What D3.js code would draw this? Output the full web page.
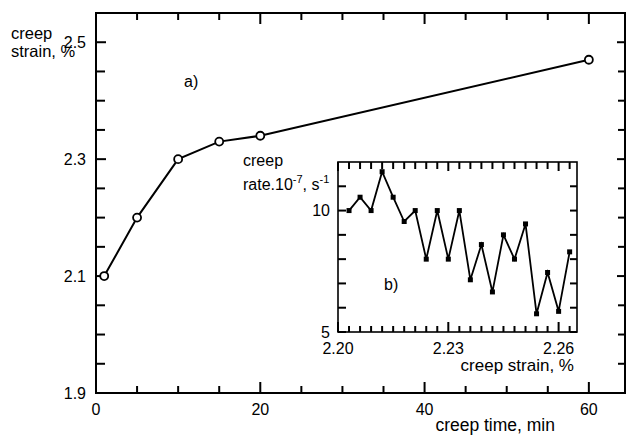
<!DOCTYPE html>
<html><head><meta charset="utf-8">
<script src="https://cdn.jsdelivr.net/npm/d3@7"></script>
<style>
html,body{margin:0;padding:0;background:#fff;}
text{font-family:"Liberation Sans",Arial,Helvetica,sans-serif;fill:#000;}
</style></head>
<body><svg id="c" width="630" height="437"></svg>
<script>
// ---- data ----
const timeMin = [1, 5, 10, 15, 20, 60];
const strainPct = [2.10, 2.20, 2.30, 2.33, 2.34, 2.47];
const insetStrain = [2.203, 2.206, 2.209, 2.212, 2.215, 2.218, 2.221, 2.224, 2.227, 2.230, 2.233,
                     2.236, 2.239, 2.242, 2.245, 2.248, 2.251, 2.254, 2.257, 2.260, 2.263];
const insetRate = [10.0, 10.55, 10.0, 11.6, 10.55, 9.55, 10.0, 8.0, 10.0, 8.0, 10.0,
                   7.15, 8.6, 6.65, 9.0, 8.0, 9.45, 5.75, 7.45, 5.85, 8.3];
const mainXTicks = [0, 20, 40, 60];
const mainXMinor = [5, 10, 15, 25, 30, 35, 45, 50, 55];
const mainYTicks = [1.9, 2.1, 2.3, 2.5];
const mainYMinor = [1.95, 2.0, 2.05, 2.15, 2.2, 2.25, 2.35, 2.4, 2.45];
const insetXTicks = [2.20, 2.23, 2.26];
const insetXMinor = [2.203,2.206,2.209,2.212,2.215,2.218,2.221,2.224,2.227,2.233,2.236,2.239,2.242,2.245,2.248,2.251,2.254,2.257,2.263];
const insetYTicks = [5, 10];
const insetYMinor = [6, 7, 8, 9, 11];

const svg = d3.select("#c");
svg.append("rect").attr("width",630).attr("height",437).attr("fill","#fff");
const TICK = "#000";

function vTicks(scale, vals, y0, y1, sw) {
  svg.append("g").selectAll("line").data(vals).enter().append("line")
    .attr("x1", d => scale(d)).attr("x2", d => scale(d))
    .attr("y1", y0).attr("y2", y1)
    .attr("stroke", TICK).attr("stroke-width", sw);
}
function hTicks(scale, vals, x0, x1, sw) {
  svg.append("g").selectAll("line").data(vals).enter().append("line")
    .attr("y1", d => scale(d)).attr("y2", d => scale(d))
    .attr("x1", x0).attr("x2", x1)
    .attr("stroke", TICK).attr("stroke-width", sw);
}
function xLabels(scale, vals, yy, fmt, fs) {
  svg.append("g").selectAll("text").data(vals).enter().append("text")
    .attr("x", d => scale(d)).attr("y", yy).attr("text-anchor","middle")
    .style("font-size", fs + "px").text(fmt);
}
function yLabels(scale, vals, xx, fmt, fs) {
  svg.append("g").selectAll("text").data(vals).enter().append("text")
    .attr("x", xx).attr("y", d => scale(d)).attr("dy","0.36em").attr("text-anchor","end")
    .style("font-size", fs + "px").text(fmt);
}

const M = {l:96, r:625, t:13, b:393};
const x = d3.scaleLinear().domain([0, 64.4]).range([M.l, M.r]);
const y = d3.scaleLinear().domain([1.9, 2.55]).range([M.b, M.t]);

vTicks(x, mainXTicks, M.b, M.b - 11, 2);
vTicks(x, mainXMinor, M.b, M.b - 7, 2);
vTicks(x, mainXTicks, M.t, M.t + 11, 2);
vTicks(x, mainXMinor, M.t, M.t + 7, 2);
hTicks(y, mainYTicks, M.l, M.l + 10, 2);
hTicks(y, mainYMinor, M.l, M.l + 9, 2);
hTicks(y, mainYTicks, M.r, M.r - 8, 2);
hTicks(y, mainYMinor, M.r, M.r - 7, 2);
xLabels(x, mainXTicks, 415, d3.format("d"), 16);
yLabels(y, mainYTicks, 86, d3.format(".1f"), 16);

svg.append("rect").attr("x",M.l).attr("y",M.t).attr("width",M.r-M.l).attr("height",M.b-M.t)
  .attr("fill","none").attr("stroke","#000").attr("stroke-width",2);

const mainPts = timeMin.map((t,i)=>[t, strainPct[i]]);
svg.append("path").datum(mainPts)
  .attr("d", d3.line().x(d=>x(d[0])).y(d=>y(d[1])))
  .attr("fill","none").attr("stroke","#000").attr("stroke-width",2);
svg.append("g").selectAll("circle").data(mainPts).enter().append("circle")
  .attr("cx",d=>x(d[0])).attr("cy",d=>y(d[1])).attr("r",4)
  .attr("fill","#fff").attr("stroke","#000").attr("stroke-width",1.8);

svg.append("text").attr("x",11).attr("y",39).style("font-size","16.5px").text("creep");
svg.append("text").attr("x",11).attr("y",57).style("font-size","16.5px").text("strain, %");
svg.append("text").attr("x",555).attr("y",431).attr("text-anchor","end").style("font-size","17.5px").text("creep time, min");
svg.append("text").attr("x",184).attr("y",87).style("font-size","16px").text("a)");

const I = {l:338, r:577, t:162, b:332};
const xi = d3.scaleLinear().domain([2.20, 2.265]).range([I.l, I.r]);
const yi = d3.scaleLinear().domain([5, 12]).range([I.b, I.t]);
svg.append("rect").attr("x",I.l).attr("y",I.t).attr("width",I.r-I.l).attr("height",I.b-I.t)
  .attr("fill","#fff").attr("stroke","none");

vTicks(xi, insetXTicks, I.b, I.b - 10, 2);
vTicks(xi, insetXMinor, I.b, I.b - 6, 2);
vTicks(xi, insetXTicks, I.t, I.t + 9, 2);
vTicks(xi, insetXMinor, I.t, I.t + 7, 2);
hTicks(yi, insetYTicks, I.l, I.l + 8, 2);
hTicks(yi, insetYMinor, I.l, I.l + 8, 2);
hTicks(yi, insetYTicks, I.r, I.r - 7, 2);
hTicks(yi, insetYMinor, I.r, I.r - 7, 2);
xLabels(xi, insetXTicks, 354, d3.format(".2f"), 16);
yLabels(yi, insetYTicks, 330, d3.format("d"), 16);

svg.append("rect").attr("x",I.l).attr("y",I.t).attr("width",I.r-I.l).attr("height",I.b-I.t)
  .attr("fill","none").attr("stroke","#000").attr("stroke-width",1.6);

const insetPts = insetStrain.map((s,i)=>[s, insetRate[i]]);
svg.append("path").datum(insetPts)
  .attr("d", d3.line().x(d=>xi(d[0])).y(d=>yi(d[1])))
  .attr("fill","none").attr("stroke","#000").attr("stroke-width",1.8);
svg.append("g").selectAll("rect").data(insetPts).enter().append("rect")
  .attr("x",d=>xi(d[0])-2.5).attr("y",d=>yi(d[1])-2.5).attr("width",5).attr("height",5)
  .attr("fill","#000");

svg.append("text").attr("x",243).attr("y",166).style("font-size","16px").text("creep");
const rt = svg.append("text").attr("x",243).attr("y",190).style("font-size","16px");
rt.append("tspan").text("rate.10");
rt.append("tspan").attr("dy",-7).style("font-size","11px").text("-7");
rt.append("tspan").attr("dy",7).text(", s");
rt.append("tspan").attr("dy",-7).style("font-size","11px").text("-1");
svg.append("text").attr("x",574).attr("y",371).attr("text-anchor","end").style("font-size","17px").text("creep strain, %");
svg.append("text").attr("x",384).attr("y",290).style("font-size","16px").text("b)");
</script></body></html>
